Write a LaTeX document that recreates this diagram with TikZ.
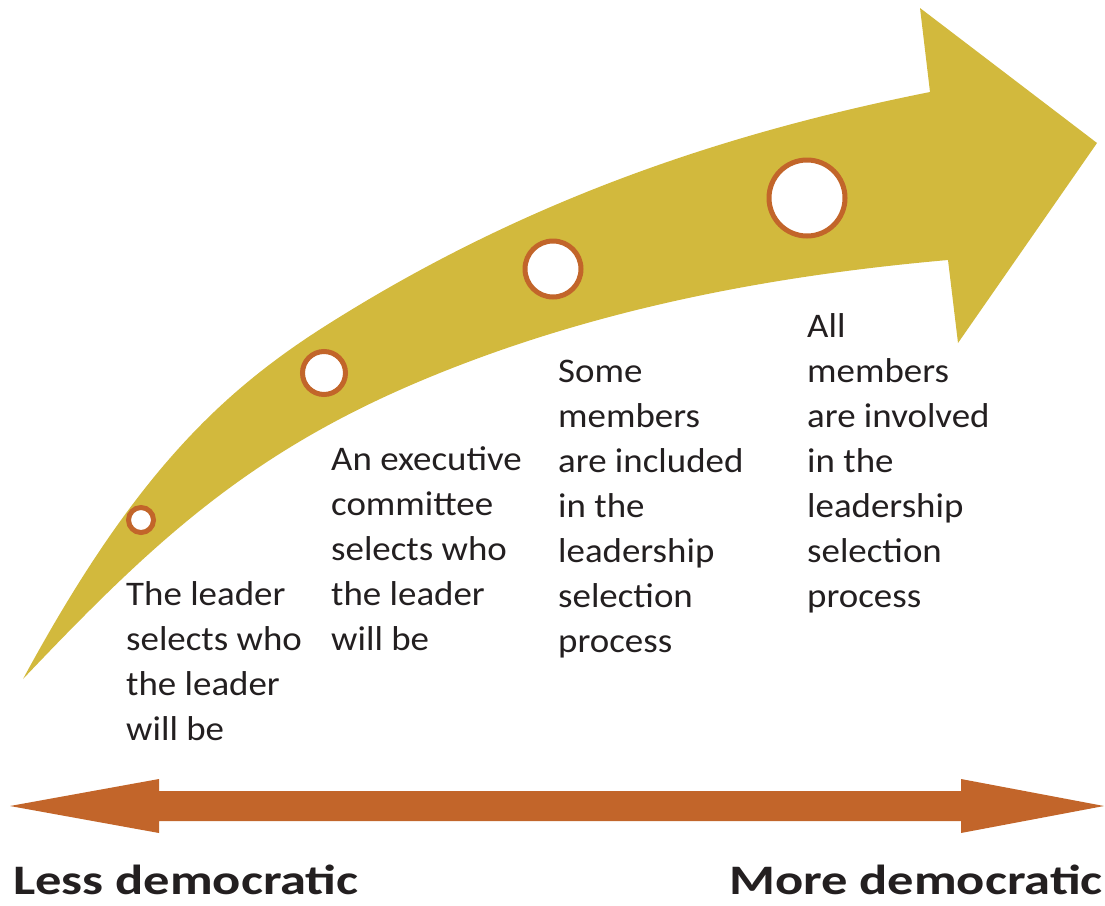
\documentclass[tikz,border=0pt]{standalone}
\usepackage{fontspec}
\setmainfont{Carlito}
\newfontfamily\bodyfont[FakeStretch=1.07]{Carlito}
\newfontfamily\democfont[FakeStretch=1.25]{Carlito}
\definecolor{gold}{HTML}{D2B93D}
\definecolor{rust}{HTML}{C2652A}
\definecolor{ink}{HTML}{231F20}
\tikzset{
  dot/.style={circle, draw=rust, line width=5pt, fill=white, inner sep=0pt},
  body/.style={anchor=base west, inner sep=0pt, text=ink, font=\bodyfont\fontsize{34.5}{43}\selectfont},
  democ/.style={inner sep=0pt, text=ink, font=\democfont\bfseries\fontsize{42}{50}\selectfont}
}
\begin{document}
\begin{tikzpicture}[x=1pt, y=-1pt]
\useasboundingbox (0,0) rectangle (1105,905);
% curved arrow
\fill[gold] (23,679) .. controls (133,476) and (220,392) .. (330,323)
  .. controls (530,197) and (730,132) .. (930,92)
  -- (920,8) -- (1097,143) -- (958,343) -- (948,260)
  .. controls (778,275) and (600,307) .. (430,377)
  .. controls (250,451) and (153,542) .. (23,679) -- cycle;
% circles
\node[dot, minimum size=25pt] (c1) at (141,520) {};
\node[dot, minimum size=43pt] (c2) at (324,373) {};
\node[dot, minimum size=56pt] (c3) at (553,269) {};
\node[dot, minimum size=76pt] (c4) at (807,198) {};
% texts
\foreach \l [count=\i] in {The leader, selects who, the leader, will be}
  \node[body] (ta\i) at (126,{605+45*(\i-1)}) {\l};
\foreach \l [count=\i] in {An executive, committee, selects who, the leader, will be}
  \node[body] (tb\i) at (331,{470+45*(\i-1)}) {\l};
\foreach \l [count=\i] in {Some, members, are included, in the, leadership, selection, process}
  \node[body] (tc\i) at (558,{382+45*(\i-1)}) {\l};
\foreach \l [count=\i] in {All, members, are involved, in the, leadership, selection, process}
  \node[body] (td\i) at (807,{337+45*(\i-1)}) {\l};
% double arrow
\coordinate (lt) at (10,806);
\coordinate (rt) at (1104,806);
\fill[rust] (lt) -- (159,779) -- (159,791) -- (961,791) -- (961,779) -- (rt)
  -- (961,833) -- (961,821) -- (159,821) -- (159,833) -- cycle;
\node[democ, anchor=base west] (less) at (13,894) {Less democratic};
\node[democ, anchor=base east] (more) at (1103,894) {More democratic};
\end{tikzpicture}
\end{document}
